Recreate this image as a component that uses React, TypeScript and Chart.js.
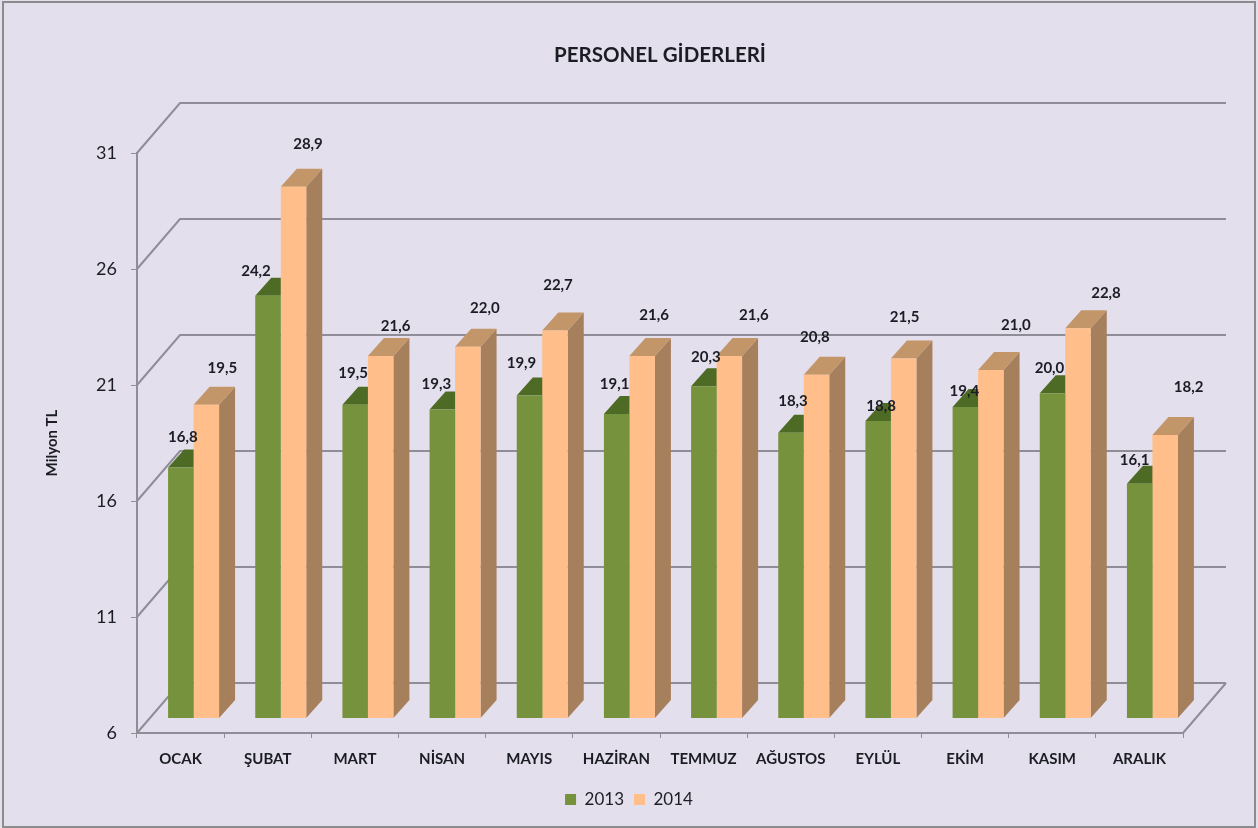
import React, { useEffect, useRef } from "react";
import { Chart, registerables } from "chart.js";

Chart.register(...registerables);

const FONT = "Lato, 'Open Sans', sans-serif";

const months = ["OCAK", "ŞUBAT", "MART", "NİSAN", "MAYIS", "HAZİRAN", "TEMMUZ", "AĞUSTOS", "EYLÜL", "EKİM", "KASIM", "ARALIK"];
const values2013 = [16.8, 24.2, 19.5, 19.3, 19.9, 19.1, 20.3, 18.3, 18.8, 19.4, 20.0, 16.1];
const values2014 = [19.5, 28.9, 21.6, 22.0, 22.7, 21.6, 21.6, 20.8, 21.5, 21.0, 22.8, 18.2];
const seriesNames = ["2013", "2014"];

// hand placement of the value labels, relative to the top of each bar
const labelShift2013 = [[2, -30], [-12, -25], [-2, -32], [-6, -25], [-8, -32], [-2, -30], [2, -29], [2, -31], [3, -15], [-1, -16], [-3, -25], [-5, -24]];
const labelShift2014 = [[16, -37], [14.5, -43], [15, -30], [17, -39], [3, -45], [12, -40.5], [24.5, -40.5], [-1.7, -37], [1, -41.5], [25, -45], [28, -35], [23.5, -47.5]];

const BG = "#E4DFEC";
const GRID = "#8F8E98";
const TEXT = "#1B1D24";
const WALL = { dx: 43, dy: -50 };
const BAR_PLANE = { dx: 13, dy: -15 };
const BAR_DEPTH = { dx: 16, dy: -18 };
const FACES = [
  { side: "#4E6B25", top: "#4E6B25" },
  { side: "#A67F5C", top: "#C29669" },
];

const scene3d = {
  id: "scene3d",
  beforeDraw(chart: any) {
    const { ctx, width, height } = chart;
    ctx.save();
    ctx.fillStyle = BG;
    ctx.fillRect(0, 0, width, height);
    ctx.strokeStyle = "#8C8C8C";
    ctx.lineWidth = 2;
    ctx.strokeRect(3, 2, width - 6, height - 3);
    ctx.restore();
  },
  beforeDatasetsDraw(chart: any) {
    const { ctx, scales, chartArea } = chart;
    ctx.save();
    ctx.strokeStyle = GRID;
    ctx.lineWidth = 2;
    ctx.beginPath();
    scales.y.ticks.forEach((t: any) => {
      const y = scales.y.getPixelForValue(t.value);
      ctx.moveTo(chartArea.left, y);
      ctx.lineTo(chartArea.left + WALL.dx, y + WALL.dy);
      ctx.lineTo(chartArea.right + WALL.dx, y + WALL.dy);
    });
    ctx.moveTo(chartArea.right, chartArea.bottom);
    ctx.lineTo(chartArea.right + WALL.dx, chartArea.bottom + WALL.dy);
    ctx.stroke();

    ctx.translate(BAR_PLANE.dx, BAR_PLANE.dy);
    const floor = chartArea.bottom;
    chart.data.datasets.forEach((_: any, i: number) => {
      chart.getDatasetMeta(i).data.forEach((bar: any) => {
        const l = bar.x - bar.width / 2;
        const r = bar.x + bar.width / 2;
        ctx.fillStyle = FACES[i].side;
        ctx.beginPath();
        ctx.moveTo(r, bar.y);
        ctx.lineTo(r + BAR_DEPTH.dx, bar.y + BAR_DEPTH.dy);
        ctx.lineTo(r + BAR_DEPTH.dx, floor + BAR_DEPTH.dy);
        ctx.lineTo(r, floor);
        ctx.closePath();
        ctx.fill();
        ctx.fillStyle = FACES[i].top;
        ctx.beginPath();
        ctx.moveTo(l, bar.y);
        ctx.lineTo(l + BAR_DEPTH.dx, bar.y + BAR_DEPTH.dy);
        ctx.lineTo(r + BAR_DEPTH.dx, bar.y + BAR_DEPTH.dy);
        ctx.lineTo(r, bar.y);
        ctx.closePath();
        ctx.fill();
      });
    });
  },
  afterDatasetsDraw(chart: any) {
    const { ctx } = chart;
    ctx.restore();
    ctx.save();
    ctx.fillStyle = TEXT;
    ctx.font = `bold 15px ${FONT}`;
    ctx.textAlign = "center";
    ctx.textBaseline = "middle";
    const shifts = [labelShift2013, labelShift2014];
    chart.data.datasets.forEach((ds: any, i: number) => {
      chart.getDatasetMeta(i).data.forEach((bar: any, j: number) => {
        const text = ds.data[j].toFixed(1).replace(".", ",");
        const [sx, sy] = shifts[i][j];
        ctx.fillText(text, bar.x + BAR_PLANE.dx + sx, bar.y + BAR_PLANE.dy + sy);
      });
    });
    ctx.restore();
  },
};

export default function App() {
  const ref = useRef<HTMLCanvasElement>(null);
  useEffect(() => {
    const chart = new Chart(ref.current!, {
      type: "bar",
      data: {
        labels: months,
        datasets: [
          { label: seriesNames[0], data: values2013, backgroundColor: "#76923C", barPercentage: 1, categoryPercentage: 0.585 },
          { label: seriesNames[1], data: values2014, backgroundColor: "#FFBE8A", barPercentage: 1, categoryPercentage: 0.585 },
        ],
      },
      plugins: [scene3d],
      options: {
        responsive: false,
        animation: false,
        layout: { padding: { left: 0, right: 0, top: 0, bottom: 10 } },
        plugins: {
          tooltip: { enabled: false },
          title: {
            display: true,
            text: "PERSONEL GİDERLERİ",
            fullSize: false,
            color: TEXT,
            font: { family: FONT, size: 20.5, weight: "bold" },
            padding: { top: 43, bottom: 85.4 },
          },
          legend: {
            position: "bottom",
            labels: {
              boxWidth: 11,
              boxHeight: 11,
              padding: 10,
              color: TEXT,
              font: { family: FONT, size: 17 },
            },
          },
        },
        scales: {
          x: {
            grid: { drawOnChartArea: false, drawTicks: true, tickLength: 5, color: GRID },
            border: { color: GRID, width: 2 },
            ticks: {
              color: TEXT,
              padding: 12,
              maxRotation: 0,
              autoSkip: false,
              font: { family: FONT, size: 15, weight: "bold" },
            },
            afterFit: (s: any) => { s.height = 48; },
          },
          y: {
            min: 6,
            max: 31,
            grid: { drawOnChartArea: false, drawTicks: true, tickLength: 6, color: GRID },
            border: { color: GRID, width: 2 },
            ticks: {
              stepSize: 5,
              color: TEXT,
              padding: 14,
              font: { family: FONT, size: 18 },
            },
            title: {
              display: true,
              text: "Milyon TL",
              color: TEXT,
              font: { family: FONT, size: 15, weight: "bold" },
              padding: { top: 43, bottom: 0 },
            },
            afterFit: (s: any) => { s.width = 137; },
          },
          gutter: {
            type: "linear",
            position: "right",
            display: true,
            grid: { display: false },
            border: { display: false },
            ticks: { display: false },
            afterFit: (s: any) => { s.width = 75; },
          },
        },
      } as any,
    });
    return () => chart.destroy();
  }, []);
  return (
    <div style={{ position: "fixed", left: 0, top: 0, width: 1258, height: 828, overflow: "hidden" }}>
      <canvas ref={ref} width={1258} height={828} style={{ display: "block", filter: "blur(0.5px)" }} />
    </div>
  );
}
